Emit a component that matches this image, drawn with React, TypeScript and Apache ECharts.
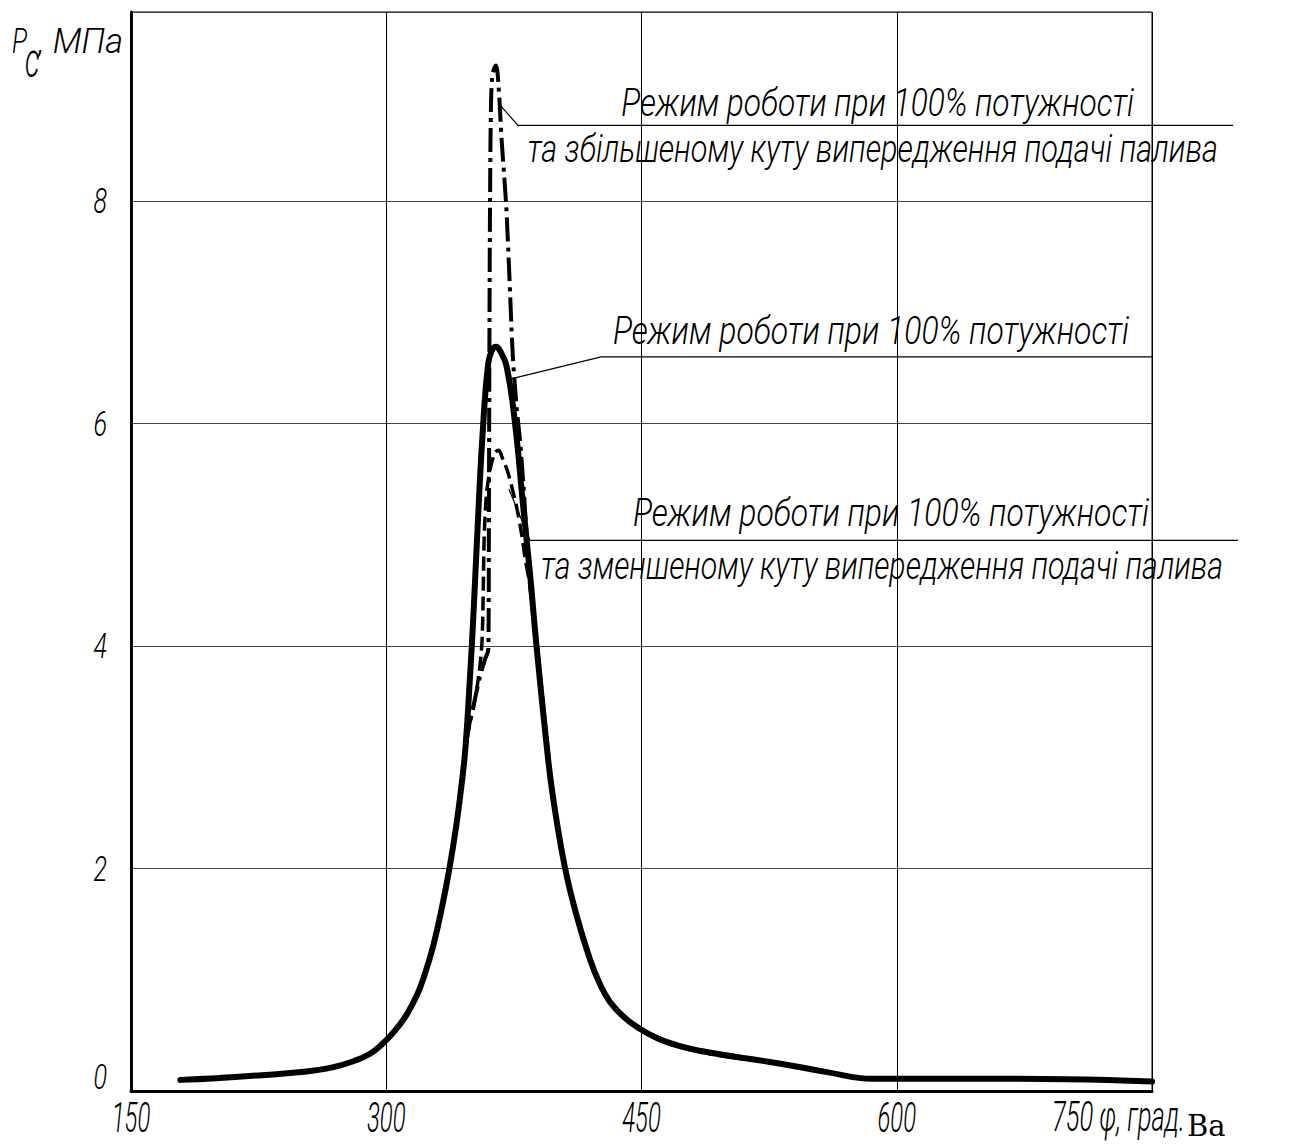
import React, { useEffect, useRef } from 'react';
import * as echarts from 'echarts';

const FONT = "Roboto, 'DejaVu Sans', sans-serif";
const SERIF = "'DejaVu Serif', 'Liberation Serif', serif";

const xMin = 150;
const xMax = 750;
const xStep = 150;
const yMin = 0;
const yMax = 9.7;
const yStep = 2;

const xTicks = [150, 300, 450, 600, 750];
const yTicks = [0, 2, 4, 6, 8];
const xUnit = 'φ, град.';
const xUnitTail = 'Ва';

// Base mode: 100% power (solid)
const baseAngle = [179, 200, 225, 250, 269, 281, 290, 297.5, 305, 312, 318, 322, 327.5, 333, 337, 341, 344, 346.5, 349.2, 351.3, 354.1, 357, 360, 362.5, 364.5, 367, 370.8, 375.7, 380.5, 384.5, 388, 395, 398.2, 405, 412, 419.7, 425.6, 431.5, 440, 449, 460, 471, 485, 500, 530, 559, 586, 650, 700, 750];
const basePressure = [0.1, 0.115, 0.14, 0.17, 0.215, 0.27, 0.33, 0.42, 0.54, 0.687, 0.86, 1.02, 1.3, 1.67, 1.99, 2.37, 2.72, 3.08, 3.72, 4.3, 5.2, 6.0, 6.55, 6.67, 6.69, 6.65, 6.51, 6.0, 5.25, 4.65, 4.05, 3.0, 2.62, 2.01, 1.57, 1.185, 0.96, 0.8, 0.66, 0.56, 0.47, 0.41, 0.36, 0.32, 0.25, 0.17, 0.11, 0.11, 0.105, 0.085];

// Increased injection advance angle (dash-dot)
const advAngle = [327.5, 333, 337, 341, 344, 346.5, 349, 351.5, 355, 358, 360, 360.3, 360.6, 361, 361.6, 362.6, 364.5, 365.9, 367.8, 370.4, 372.3, 374.3, 376.6, 378.6, 380.6, 382.5, 385, 388.2, 395.3, 398.5, 405.3, 412.3, 420, 426, 432, 440.5, 449.5, 460.5, 471.5, 485, 500, 520];
const advPressure = [1.3, 1.67, 1.99, 2.37, 2.72, 3.08, 3.3, 3.48, 3.72, 3.88, 3.97, 5.0, 6.6, 8.0, 8.9, 9.15, 9.22, 9.06, 8.55, 7.98, 7.35, 6.63, 6.15, 5.85, 5.45, 5.0, 4.5, 4.05, 3.02, 2.6, 2.0, 1.55, 1.17, 0.94, 0.79, 0.65, 0.55, 0.46, 0.4, 0.35, 0.31, 0.27];

// Decreased injection advance angle (dashed)
const retAngle = [327.5, 333, 337, 341, 344, 346.5, 349, 351.3, 354.5, 356.3, 357, 357.6, 359, 361.5, 364, 366, 368.5, 371.7, 376.6, 379.5, 381.5, 384.3, 387.8, 394.8, 398, 404.8, 411.8, 419.5, 425.4, 431.3, 439.8, 448.8, 459.8, 470.8, 485, 500, 520];
const retPressure = [1.3, 1.67, 1.99, 2.37, 2.72, 3.08, 3.3, 3.45, 3.75, 4.05, 4.5, 5.0, 5.38, 5.62, 5.74, 5.76, 5.68, 5.55, 5.25, 5.01, 4.8, 4.55, 4.03, 3.0, 2.63, 2.02, 1.58, 1.2, 0.97, 0.81, 0.67, 0.57, 0.48, 0.42, 0.36, 0.33, 0.28];

const labelMode = 'Режим роботи при 100% потужності';
const labelAdv = 'та збільшеному куту випередження подачі палива';
const labelRet = 'та зменшеному куту випередження подачі палива';

// leader lines (data coordinates): start on curve, knee, end of underline
const leaderAdv = [[365.9, 8.88], [377.4, 8.68], [797.6, 8.68]];
const leaderBase = [[372.7, 6.4], [426.2, 6.6], [750, 6.6]];
const leaderRet = [[372.1, 5.41], [384.5, 4.95], [800.5, 4.95]];

const pairs = (xs: number[], ys: number[]) => xs.map((x, i) => [x, ys[i]]);

let ctx: CanvasRenderingContext2D | null = null;
const measure = (text: string, size: number, family = FONT, style = 'italic 300') => {
  if (!ctx) ctx = document.createElement('canvas').getContext('2d');
  if (!ctx) return text.length * size * 0.5;
  ctx.font = `${style} ${size}px ${family}`;
  return ctx.measureText(text).width;
};

export default function App() {
  const ref = useRef<HTMLDivElement>(null);

  useEffect(() => {
    document.body.style.margin = '0';
    if (!ref.current) return;
    const chart = echarts.init(ref.current, null, { renderer: 'svg' });

    chart.setOption({
      animation: false,
      backgroundColor: '#fff',
      grid: {
        left: 131,
        right: 142,
        top: 12,
        bottom: 53,
        show: true,
        borderColor: '#000',
        borderWidth: 1,
        containLabel: false,
      },
      xAxis: {
        type: 'value',
        min: xMin,
        max: xMax,
        interval: xStep,
        axisLine: { show: true, onZero: false, lineStyle: { color: '#000', width: 3 } },
        axisTick: { show: false },
        axisLabel: { show: false },
        splitLine: { show: true, lineStyle: { color: '#000', width: 1 } },
      },
      yAxis: {
        type: 'value',
        min: yMin,
        max: yMax,
        interval: yStep,
        axisLine: { show: true, onZero: false, lineStyle: { color: '#000', width: 3 } },
        axisTick: { show: false },
        axisLabel: { show: false },
        splitLine: { show: true, lineStyle: { color: '#444', width: 1.2 } },
      },
      series: [
        {
          type: 'line',
          name: 'dec',
          data: pairs(retAngle, retPressure),
          symbol: 'none',
          smooth: 0.3,
          lineStyle: { color: '#000', width: 3.5, type: [14, 6] },
          z: 3,
        },
        {
          type: 'line',
          name: 'adv',
          data: pairs(advAngle, advPressure),
          symbol: 'none',
          smooth: 0.3,
          lineStyle: { color: '#000', width: 4, type: [24, 6, 4, 6] },
          z: 4,
        },
        {
          type: 'line',
          name: 'base',
          data: pairs(baseAngle, basePressure),
          symbol: 'none',
          smooth: 0.45,
          lineStyle: { color: '#000', width: 6, cap: 'round', join: 'round' },
          z: 5,
        },
      ],
    });

    const toPx = (p: number[]) =>
      chart.convertToPixel({ xAxisIndex: 0, yAxisIndex: 0 }, p) as number[];

    const leader = (pts: number[][]) => ({
      type: 'polyline',
      shape: { points: pts.map(toPx) },
      style: { stroke: '#000', lineWidth: 1.2, fill: null },
      z: 10,
    });

    const txt = (
      text: string,
      x: number,
      y: number,
      size: number,
      align: string,
      scaleX: number,
      vAlign = 'middle'
    ) => ({
      type: 'text',
      x,
      y,
      scaleX,
      style: {
        text,
        fill: '#000',
        fontFamily: FONT,
        fontStyle: 'italic',
        fontWeight: 300,
        fontSize: size,
        align,
        verticalAlign: vAlign,
      },
      z: 10,
    });

    // text fitted between left and right edges
    const fitted = (text: string, left: number, right: number, y: number, size: number) =>
      txt(text, right, y, size, 'right', (right - left) / measure(text, size));

    const [axisX, axisY] = toPx([xMin, yMin]);
    const tickEls: any[] = [];
    const xLabelY = axisY + 26;
    xTicks.forEach((v) => {
      const [px] = toPx([v, yMin]);
      if (v === xMax) {
        tickEls.push(fitted(`${v} ${xUnit}`, px - 100, px + 33, xLabelY, 42));
      } else {
        tickEls.push(txt(String(v), px, xLabelY, 42, 'center', 0.57));
      }
    });
    yTicks.forEach((v) => {
      const [, py] = toPx([xMin, v]);
      tickEls.push(txt(String(v), axisX - 24, v === 0 ? py - 14 : py, 35, 'right', 0.72));
    });
    const [maxPx] = toPx([xMax, yMin]);

    chart.setOption({
      graphic: [
        leader(leaderAdv),
        leader(leaderBase),
        leader(leaderRet),
        fitted(labelMode, 621, 1134, 104, 38),
        fitted(labelAdv, 527, 1218, 149, 38),
        fitted(labelMode, 613, 1129, 331, 38),
        fitted(labelMode, 633, 1149, 513, 38),
        fitted(labelRet, 541, 1223, 566, 38),
        txt('P', 12, 41, 35, 'left', 0.72),
        txt('c', 25, 61, 48, 'left', 0.6),
        fitted(', МПа', 38, 123, 41, 35),
        ...tickEls,
        {
          type: 'text',
          x: maxPx + 35,
          y: 1140,
          style: {
            text: xUnitTail,
            fill: '#000',
            fontFamily: SERIF,
            fontSize: 29,
            align: 'left',
            verticalAlign: 'bottom',
          },
          z: 10,
        },
      ],
    });

    return () => chart.dispose();
  }, []);

  return <div ref={ref} style={{ width: 1294, height: 1144 }} />;
}
